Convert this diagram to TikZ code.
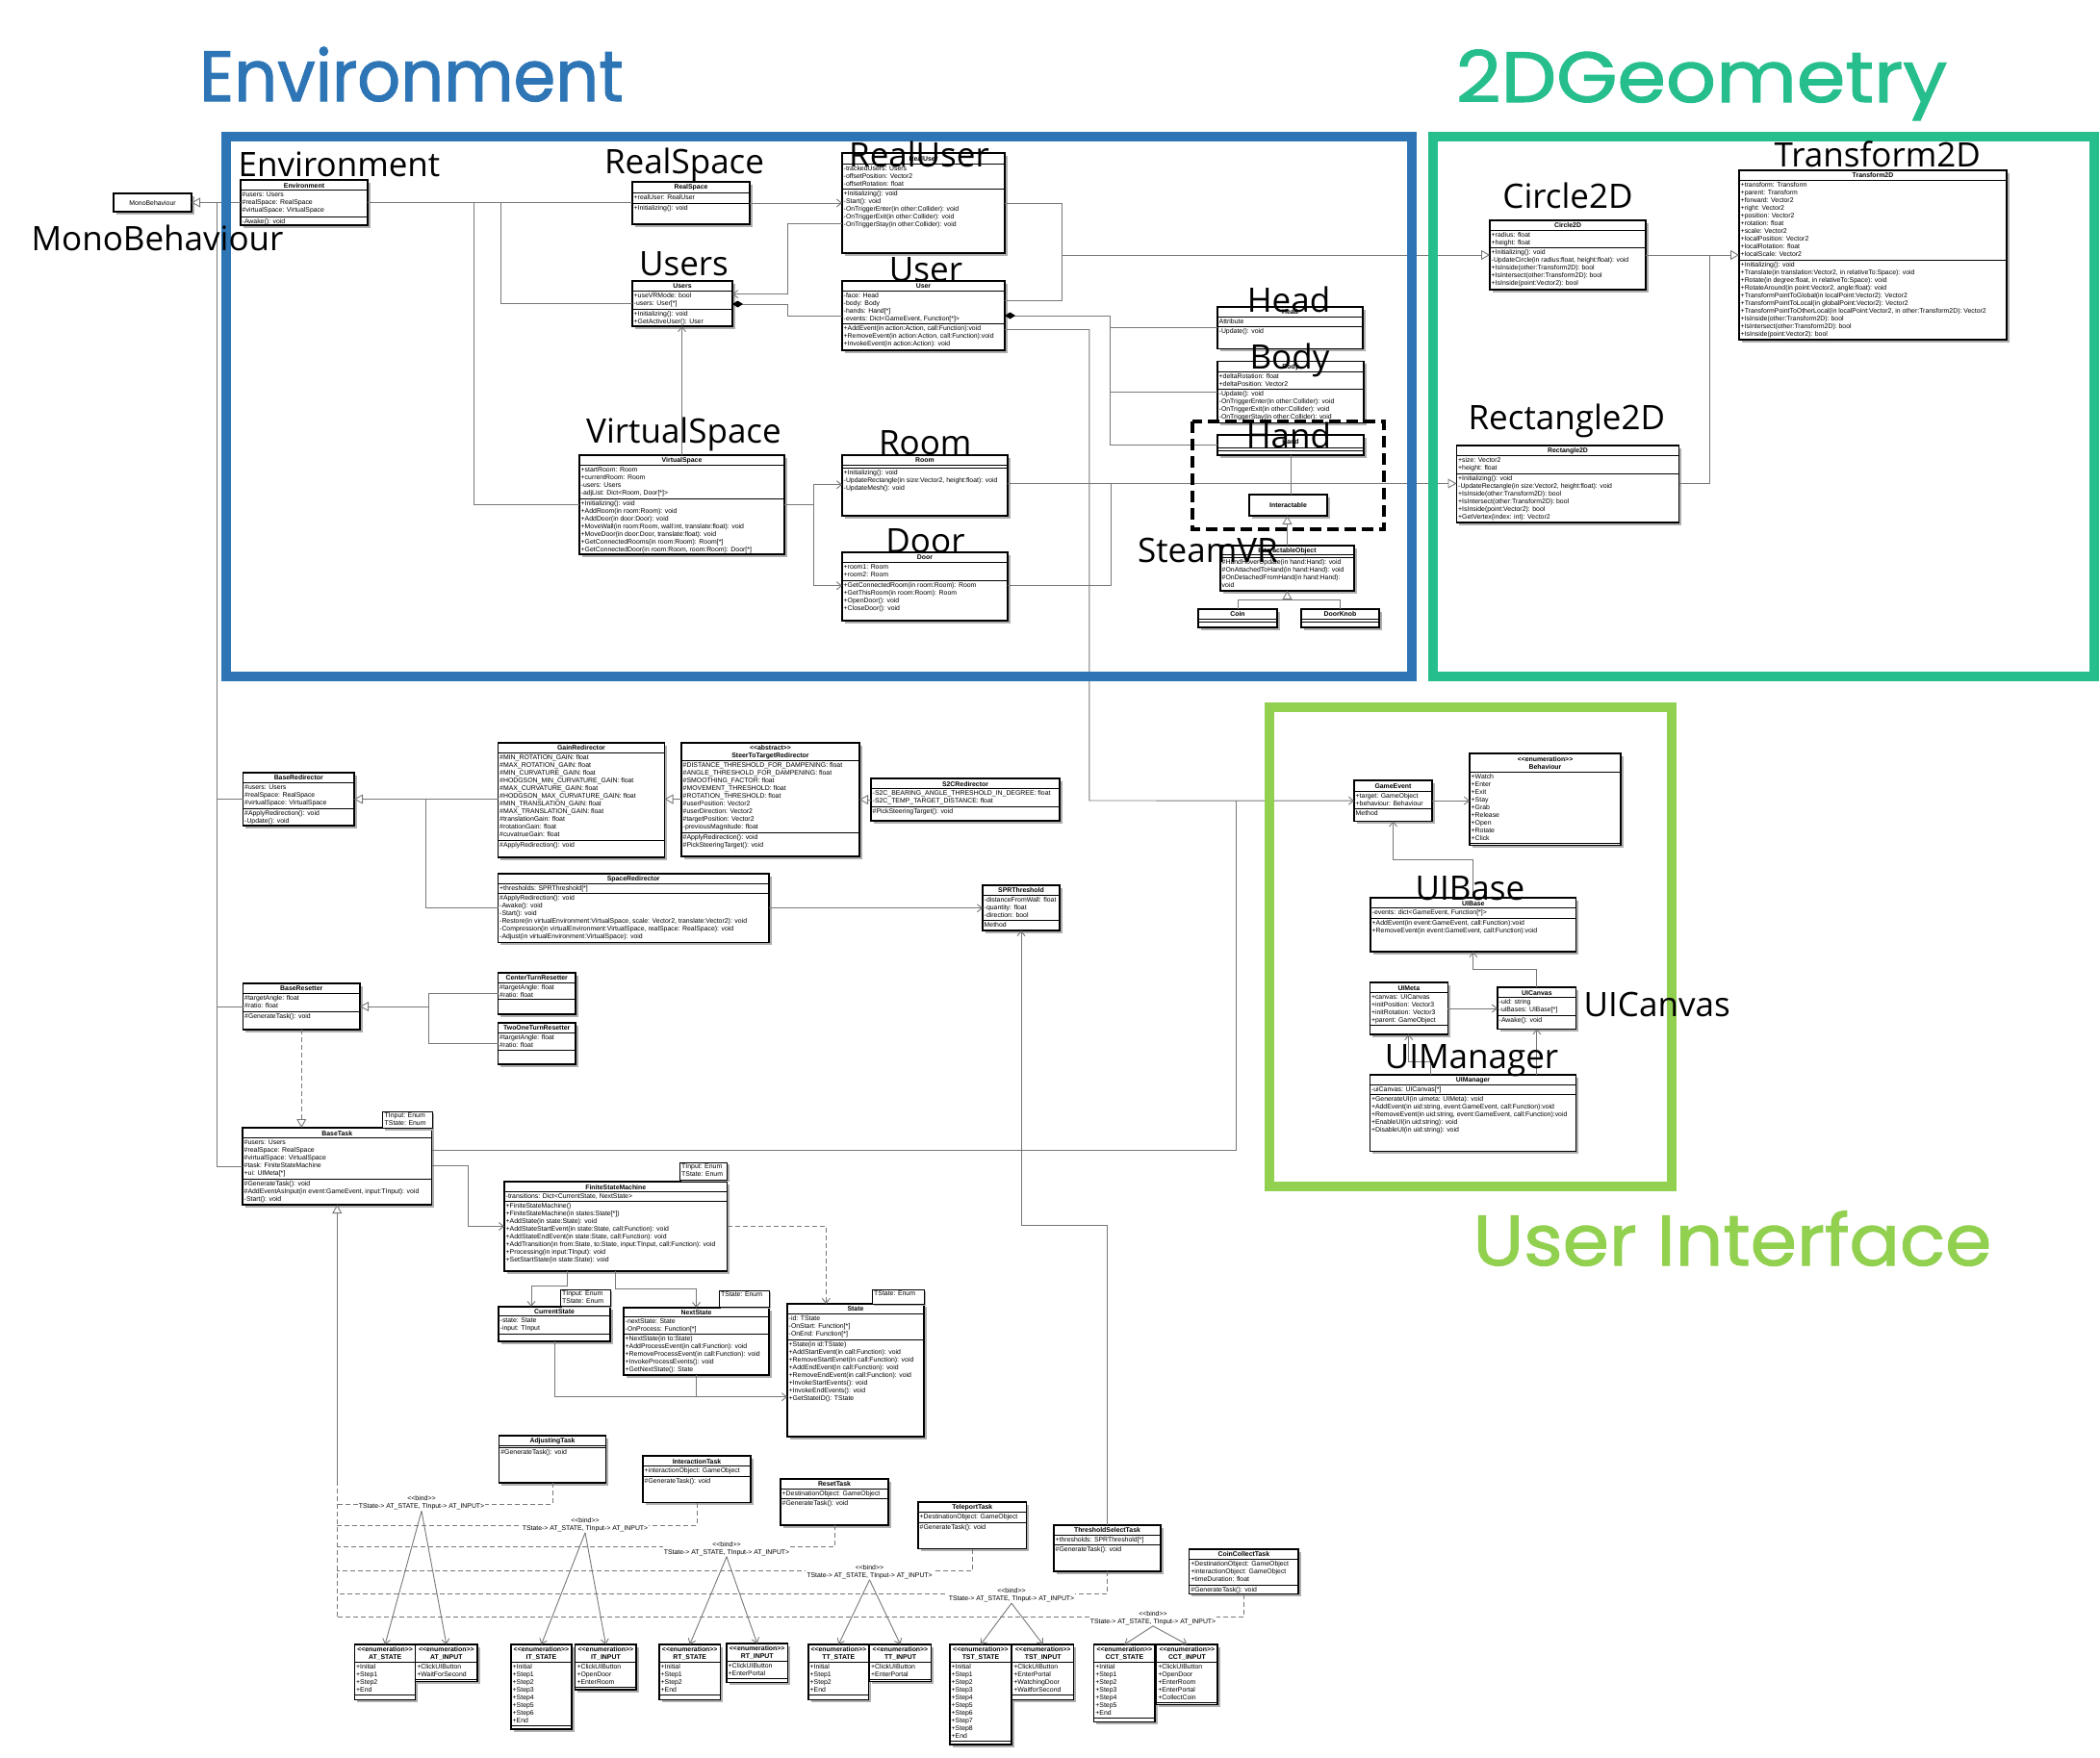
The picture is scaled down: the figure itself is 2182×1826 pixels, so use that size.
\documentclass[tikz,border=0pt]{standalone}
\usepackage{fontspec}
\setmainfont{Liberation Sans}
\newfontfamily\lblfont{Open Sans}
\newfontfamily\ttlfont{Poppins}[FakeBold=1.4]
\usetikzlibrary{arrows.meta}
\definecolor{envblue}{RGB}{46,117,182}
\definecolor{geogreen}{RGB}{38,190,140}
\definecolor{uigreen}{RGB}{146,208,80}
\definecolor{linec}{RGB}{120,120,120}
\definecolor{shadowc}{RGB}{175,175,175}
\newcommand\umlf{\fontsize{6.9}{8}\selectfont\lineskiplimit=-10pt\relax}
\newcommand\umlbf{\fontsize{6.9}{8}\selectfont\bfseries\lineskiplimit=-10pt\relax}
\newcommand\ustrut{\rule[-2pt]{0pt}{8pt}}
\def\Kparse#1,#2,#3,#4,#5,#6\Kend{\def\Kx{#1}\def\Ky{#2}\def\Kw{#3}\def\Kh{#4}\def\Khh{#5}\def\Kah{#6}}
\newcommand\cls[5]{%
  \Kparse#2\Kend
  \fill[shd] ({\Kx+2.5},{\Ky+2.5}) rectangle ++(\Kw,\Kh);
  \node[box, minimum width=\Kw pt, minimum height=\Kh pt] (#1) at (\Kx,\Ky) {};
  \draw[cmp] (\Kx,{\Ky+\Khh}) -- ++(\Kw,0);
  \draw[cmp] (\Kx,{\Ky+\Khh+\Kah}) -- ++(\Kw,0);
  \node[ttl] (#1-t) at ({\Kx+\Kw/2},{\Ky+\Khh/2+0.5}) {#3};
  \node[txt] (#1-a) at ({\Kx+1.5},{\Ky+\Khh+1}) {\ustrut#4};
  \node[txt] (#1-m) at ({\Kx+1.5},{\Ky+\Khh+\Kah+1}) {\ustrut#5};
}
\newcommand\clsone[4]{%
  \Kparse#2,0,0\Kend
  \fill[shd] ({\Kx+2.5},{\Ky+2.5}) rectangle ++(\Kw,\Kh);
  \node[box, minimum width=\Kw pt, minimum height=\Kh pt] (#1) at (\Kx,\Ky) {};
  \node[ttl, font=#4] (#1-t) at ({\Kx+\Kw/2},{\Ky+\Kh/2+0.5}) {#3};
}
\newcommand\tpl[3]{%
  \Kparse#2,0,0\Kend
  \fill[shd] ({\Kx+2},{\Ky+2}) rectangle ++(\Kw,\Kh);
  \node[box, line width=1pt, minimum width=\Kw pt, minimum height=\Kh pt] (#1) at (\Kx,\Ky) {};
  \node[txt] (#1-a) at ({\Kx+2},{\Ky+0.5}) {\ustrut#3};
}
\tikzset{
 box/.style={draw=black, line width=1.2pt, fill=white, anchor=north west, inner sep=0pt, outer sep=0pt},
 cmp/.style={draw=black, line width=0.9pt},
 shd/.style={fill=shadowc},
 ttl/.style={anchor=center, inner sep=0pt, font=\umlbf, align=center},
 txt/.style={anchor=north west, inner sep=0pt, font=\umlf, align=left},
 conn/.style={draw=linec, line width=0.9pt},
 assoc/.style={conn, -{Straight Barb[length=5pt,width=8pt]}},
 inh/.style={conn, -{Triangle[open,length=9pt,width=10pt,fill=white]}},
 comp/.style={conn, {Diamond[length=11pt,width=7pt,fill=black,color=black]}-},
 depl/.style={conn, dash pattern=on 5pt off 3pt},
 deparr/.style={depl, -{Straight Barb[length=5pt,width=8pt]}},
 real/.style={depl, -{Triangle[open,length=9pt,width=10pt,fill=white]}},
 lbl/.style={font=\lblfont\fontsize{35}{40}\selectfont, anchor=base, inner sep=0pt},
 sect/.style={font=\ttlfont\fontsize{74}{80}\selectfont, anchor=base, inner sep=0pt},
 bindl/.style={font=\umlf, align=center, fill=white, inner sep=1pt, anchor=north},
}
\begin{document}
\begin{tikzpicture}[x=1pt,y=-1pt]
\useasboundingbox (0,0) rectangle (2182,1826);
\fill[white] (0,0) rectangle (2182,1826);
% ---------------- classes: Environment
\clsone{MonoBehaviour}{118,201,81,19}{MonoBehaviour}{\umlf}
\cls{Environment}{250,187,132,47,10.5,27.5}{Environment}{\#users: Users\\\#realSpace: RealSpace\\\#virtualSpace: VirtualSpace}{-Awake(): void}
\cls{RealSpace}{657,189,122,44,11,11}{RealSpace}{+realUser: RealUser}{+Initializing(): void}
\cls{RealUser}{875,159,169,104,11,26.5}{RealUser}{-trackedUsers: Users\\-offsetPosition: Vector2\\-offsetRotation: float}{+Initializing(): void\\-Start(): void\\-OnTriggerEnter(in other:Collider): void\\-OnTriggerExit(in other:Collider): void\\-OnTriggerStay(in other:Collider): void}
\cls{Users}{657,292,104,47,10,19}{Users}{+useVRMode: bool\\-users: User[*]}{+Initializing(): void\\+GetActiveUser(): User}
\cls{User}{875,292,169,72,10,34.6}{User}{-face: Head\\-body: Body\\-hands: Hand[*]\\-events: Dict<GameEvent, Function[*]>}{+AddEvent(in action:Action, call:Function):void\\+RemoveEvent(in action:Action, call:Function):void\\+InvokeEvent(in action:Action): void}
\cls{VirtualSpace}{602,473,213,103,10.5,34.5}{VirtualSpace}{+startRoom: Room\\+currentRoom: Room\\-users: Users\\-adjList: Dict<Room, Door[*]>}{+Initializing(): void\\+AddRoom(in room:Room): void\\+AddDoor(in door:Door): void\\+MoveWall(in room:Room, wall:int, translate:float): void\\+MoveDoor(in door:Door, translate:float): void\\+GetConnectedRooms(in room:Room): Room[*]\\+GetConnectedDoor(in room:Room, room:Room): Door[*]}
\cls{Room}{875,473,172,63,10,3}{Room}{}{+Initializing(): void\\-UpdateRectangle(in size:Vector2, height:float): void\\-UpdateMesh(): void}
\cls{Door}{875,574,172,71,10,19.5}{Door}{+room1: Room\\+room2: Room}{+GetConnectedRoom(in room:Room): Room\\+GetThisRoom(in room:Room): Room\\+OpenDoor(): void\\+CloseDoor(): void}
\cls{Head}{1265,319,151,43.5,10,10.4}{Head}{Attribute}{-Update(): void}
\cls{Body}{1265,375.6,152,64,11,18}{Body}{+deltaRotation: float\\+deltaPosition: Vector2}{-Update(): void\\-OnTriggerEnter(in other:Collider): void\\-OnTriggerExit(in other:Collider): void\\-OnTriggerStay(in other:Collider): void}
\cls{Hand}{1265,452,152,21,13,3}{Hand}{}{}
\clsone{Interactable}{1298,514,81,22}{Interactable}{\umlbf}
\cls{InteractableObject}{1268,567,139,47,9.5,3}{InteractableObject}{}{\#HandHoverUpdate(in hand:Hand): void\\\#OnAttachedToHand(in hand:Hand): void\\\#OnDetachedFromHand(in hand:Hand):\\void}
\cls{Coin}{1245,633,82,19,10,3}{Coin}{}{}
\cls{DoorKnob}{1352,633,81,19,10,3}{DoorKnob}{}{}
% ---------------- 2D geometry
\cls{Circle2D}{1548,229,162,72,10,18.7}{Circle2D}{+radius: float\\+height: float}{+Initializing(): void\\-UpdateCircle(in radius:float, height:float): void\\+IsInside(other:Transform2D): bool\\+IsIntersect(other:Transform2D): bool\\+IsInside(point:Vector2): bool}
\cls{Transform2D}{1807,177,278,176,10,83.3}{Transform2D}{+transform: Transform\\+parent: Transform\\+forward: Vector2\\+right: Vector2\\+position: Vector2\\+rotation: float\\+scale: Vector2\\+localPosition: Vector2\\+localRotation: float\\+localScale: Vector2}{+Initializing(): void\\+Translate(in translation:Vector2, in relativeTo:Space): void\\+Rotate(in degree:float, in relativeTo:Space): void\\+RotateAround(in point:Vector2, angle:float): void\\+TransformPointToGlobal(in localPoint:Vector2): Vector2\\+TransformPointToLocal(in globalPoint:Vector2): Vector2\\+TransformPointToOtherLocal(in localPoint:Vector2, in other:Transform2D): Vector2\\+IsInside(other:Transform2D): bool\\+IsIntersect(other:Transform2D): bool\\+IsInside(point:Vector2): bool}
\cls{Rectangle2D}{1513.5,463,231,80,10,19}{Rectangle2D}{+size: Vector2\\+height: float}{+Initializing(): void\\-UpdateRectangle(in size:Vector2, height:float): void\\+IsInside(other:Transform2D): bool\\+IsIntersect(other:Transform2D): bool\\+IsInside(point:Vector2): bool\\+GetVertex(index: int): Vector2}
% ---------------- redirection / reset
\cls{BaseRedirector}{252.5,803,115.5,55,10,27}{BaseRedirector}{\#users: Users\\\#realSpace: RealSpace\\\#virtualSpace: VirtualSpace}{\#ApplyRedirection(): void\\-Update(): void}
\cls{GainRedirector}{517.5,772,173,119,10,91.6}{GainRedirector}{\#MIN\_ROTATION\_GAIN: float\\\#MAX\_ROTATION\_GAIN: float\\\#MIN\_CURVATURE\_GAIN: float\\\#HODGSON\_MIN\_CURVATURE\_GAIN: float\\\#MAX\_CURVATURE\_GAIN: float\\\#HODGSON\_MAX\_CURVATURE\_GAIN: float\\\#MIN\_TRANSLATION\_GAIN: float\\\#MAX\_TRANSLATION\_GAIN: float\\\#translationGain: float\\\#rotationGain: float\\\#cuvatrueGain: float}{\#ApplyRedirection(): void}
\cls{SteerToTargetRedirector}{708,772,185,118,18.3,75}{<{}<abstract>{}>\\SteerToTargetRedirector}{\#DISTANCE\_THRESHOLD\_FOR\_DAMPENING: float\\\#ANGLE\_THRESHOLD\_FOR\_DAMPENING: float\\\#SMOOTHING\_FACTOR: float\\\#MOVEMENT\_THRESHOLD: float\\\#ROTATION\_THRESHOLD: float\\\#userPosition: Vector2\\\#userDirection: Vector2\\\#targetPosition: Vector2\\-previousMagnitude: float}{\#ApplyRedirection(): void\\\#PickSteeringTarget(): void}
\cls{S2CRedirector}{905,809,196,44,10.3,19}{S2CRedirector}{-S2C\_BEARING\_ANGLE\_THRESHOLD\_IN\_DEGREE: float\\-S2C\_TEMP\_TARGET\_DISTANCE: float}{\#PickSteeringTarget(): void}
\cls{SpaceRedirector}{517.5,908,281.5,71.5,10,10.6}{SpaceRedirector}{+thresholds: SPRThreshold[*]}{\#ApplyRedirection(): void\\-Awake(): void\\-Start(): void\\-Restore(in virtualEnvironment:VirtualSpace, scale: Vector2, translate:Vector2): void\\-Compression(in virtualEnvironment:VirtualSpace, realSpace: RealSpace): void\\-Adjust(in virtualEnvironment:VirtualSpace): void}
\cls{SPRThreshold}{1021,920,80,47,10,26}{SPRThreshold}{-distanceFromWall: float\\-quantity: float\\-direction: bool}{Method}
\cls{BaseResetter}{252.5,1022,121.5,48,10,19}{BaseResetter}{\#targetAngle: float\\\#ratio: float}{\#GenerateTask(): void}
\cls{CenterTurnResetter}{517.5,1011,80.5,43,10,17.6}{CenterTurnResetter}{\#targetAngle: float\\\#ratio: float}{}
\cls{TwoOneTurnResetter}{517.5,1063,80.5,43,10,18.3}{TwoOneTurnResetter}{\#targetAngle: float\\\#ratio: float}{}
% ---------------- tasks
\cls{BaseTask}{252,1172,196.5,80,10.6,42.7}{BaseTask}{\#users: Users\\\#realSpace: RealSpace\\\#virtualSpace: VirtualSpace\\\#task: FiniteStateMachine\\+ui: UIMeta[*]}{\#GenerateTask(): void\\\#AddEventAsInput(in event:GameEvent, input:TInput): void\\-Start(): void}
\tpl{BaseTaskT}{397.5,1155,51.5,17.5}{TInput: Enum\\TState: Enum}
\cls{FiniteStateMachine}{524,1228,231.5,93,10.7,10}{FiniteStateMachine}{-transitions: Dict<CurrentState, NextState>}{+FiniteStateMachine()\\+FiniteStateMachine(in states:State[*])\\+AddState(in state:State): void\\+AddStateStartEvent(in state:State, call:Function): void\\+AddStateEndEvent(in state:State, call:Function): void\\+AddTransition(in from:State, to:State, input:TInput, call:Function): void\\+Processing(in input:TInput): void\\+SetStartState(in state:State): void}
\tpl{FSMT}{706,1208,49.5,18}{TInput: Enum\\TState: Enum}
\cls{CurrentState}{518,1358,116,36,9.5,19}{CurrentState}{-state: State\\-input: TInput}{}
\tpl{CurT}{582,1340,52,17}{TInput: Enum\\TState: Enum}
\cls{NextState}{648,1359,151,70,9,18.3}{NextState}{-nextState: State\\-OnProcess: Function[*]}{+NextState(in to:State)\\+AddProcessEvent(in call:Function): void\\+RemoveProcessEvent(in call:Function): void\\+InvokeProcessEvents(): void\\+GetNextState(): State}
\tpl{NextT}{747,1341,52,17}{\rule{0pt}{4pt}TState: Enum}
\cls{State}{818,1355,142,138,10,27}{State}{-id: TState\\-OnStart: Function[*]\\-OnEnd: Function[*]}{+State(in id:TState)\\+AddStartEvent(in call:Function): void\\+RemoveStartEvnet(in call:Function): void\\+AddEndEvent(in call:Function): void\\+RemoveEndEvent(in call:Function): void\\+InvokeStartEvents(): void\\+InvokeEndEvents(): void\\+GetStateID(): TState}
\tpl{StateT}{906,1340,54,15}{\rule{0pt}{3pt}TState: Enum}
\cls{AdjustingTask}{518.7,1492,110.7,49,10,2.3}{AdjustingTask}{}{\#GenerateTask(): void}
\cls{InteractionTask}{668,1513,112,48.7,10.3,11}{InteractionTask}{+interactionObject: GameObject}{\#GenerateTask(): void}
\cls{ResetTask}{811,1537,112,48,10,10}{ResetTask}{+DestinationObject: GameObject}{\#GenerateTask(): void}
\cls{TeleportTask}{954,1561,112.7,48.6,10,11}{TeleportTask}{+DestinationObject: GameObject}{\#GenerateTask(): void}
\cls{ThresholdSelectTask}{1095,1585,111,48,10,10.7}{ThresholdSelectTask}{+thresholds: SPRThreshold[*]}{\#GenerateTask(): void}
\cls{CoinCollectTask}{1235.7,1610,113.3,46.7,10,27.3}{CoinCollectTask}{+DestinationObject: GameObject\\+interactionObject: GameObject\\+timeDuration: float}{\#GenerateTask(): void}
% ---------------- enumerations
\cls{ATS}{368.5,1709,63.2,57.7,18.3,34.4}{<{}<enumeration>{}>\\AT\_STATE}{+Initial\\+Step1\\+Step2\\+End}{}
\cls{ATI}{431.7,1709,64.3,38.3,18.3,17.7}{<{}<enumeration>{}>\\AT\_INPUT}{+ClickUIButton\\+WaitForSecond}{}
\cls{ITS}{531,1709,63,88,18.3,66}{<{}<enumeration>{}>\\IT\_STATE}{+Initial\\+Step1\\+Step2\\+Step3\\+Step4\\+Step5\\+Step6\\+End}{}
\cls{ITI}{597.8,1709,63.2,47,18.3,26}{<{}<enumeration>{}>\\IT\_INPUT}{+ClickUIButton\\+OpenDoor\\+EnterRoom}{}
\cls{RTS}{685,1709,63.5,57.7,18.3,34.4}{<{}<enumeration>{}>\\RT\_STATE}{+Initial\\+Step1\\+Step2\\+End}{}
\cls{RTI}{755,1708,63.4,40.3,18,18}{<{}<enumeration>{}>\\RT\_INPUT}{+ClickUIButton\\+EnterPortal}{}
\cls{TTS}{840,1709,62.7,57.7,18.3,34.4}{<{}<enumeration>{}>\\TT\_STATE}{+Initial\\+Step1\\+Step2\\+End}{}
\cls{TTI}{903.5,1709,64,38.3,18.3,17.7}{<{}<enumeration>{}>\\TT\_INPUT}{+ClickUIButton\\+EnterPortal}{}
\cls{TSTS}{987,1709,64,104,18.3,82}{<{}<enumeration>{}>\\TST\_STATE}{+Initial\\+Step1\\+Step2\\+Step3\\+Step4\\+Step5\\+Step6\\+Step7\\+Step8\\+End}{}
\cls{TSTI}{1051.7,1709,64,57.7,18.3,34.4}{<{}<enumeration>{}>\\TST\_INPUT}{+ClickUIButton\\+EnterPortal\\+WatchingDoor\\+WaitforSecond}{}
\cls{CCTS}{1136.7,1709,63.3,80.3,18.3,58}{<{}<enumeration>{}>\\CCT\_STATE}{+Initial\\+Step1\\+Step2\\+Step3\\+Step4\\+Step5\\+End}{}
\cls{CCTI}{1201.7,1709,63.3,62.7,18.3,42}{<{}<enumeration>{}>\\CCT\_INPUT}{+ClickUIButton\\+OpenDoor\\+EnterRoom\\+EnterPortal\\+CollectCoin}{}
% ---------------- user interface
\cls{GameEvent}{1407,811,81,42.3,11,18.3}{GameEvent}{+target: GameObject\\+behaviour: Behaviour}{Method}
\cls{Behaviour}{1527,783,157,95.3,19,74}{<{}<enumeration>{}>\\Behaviour}{+Watch\\+Enter\\+Exit\\+Stay\\+Grab\\+Release\\+Open\\+Rotate\\+Click}{}
\cls{UIBase}{1424,933,213.7,56,10.7,11}{UIBase}{-events: dict<GameEvent, Function[*]>}{+AddEvent(in event:GameEvent, call:Function):void\\+RemoveEvent(in event:GameEvent, call:Function):void}
\cls{UIMeta}{1423.3,1021,81,54,10.3,34}{UIMeta}{+canvas: UICanvas\\+initPosition: Vector3\\+initRotation: Vector3\\+parent: GameObject}{}
\cls{UICanvas}{1556,1026,81.7,43.3,10.7,18.3}{UICanvas}{-uid: string\\-uiBases: UIBase[*]}{-Awake(): void}
\cls{UIManager}{1423.3,1117,214.4,79.3,10,10}{UIManager}{-uiCanvas: UICanvas[*]}{+GenerateUI(in uimeta: UIMeta): void\\+AddEvent(in uid:string, event:GameEvent, call:Function):void\\+RemoveEvent(in uid:string, event:GameEvent, call:Function):void\\+EnableUI(in uid:string): void\\+DisableUI(in uid:string): void}
% ---------------- connectors
\coordinate (Lt) at (225,210.5);
\draw[inh] (Environment.west) -- (MonoBehaviour.east);
\draw[conn] (Lt) |- (BaseTask.west);
\draw[conn] (Lt |- BaseRedirector.west) -- (BaseRedirector.west);
\draw[conn] (Lt |- BaseResetter.west) -- (BaseResetter.west);
\draw[conn] (Environment.east) -- (RealSpace.west |- Environment.east);
\draw[conn] (520,210.5) |- (Users.west);
\draw[conn] (492.6,210.5) |- (VirtualSpace.west);
\draw[assoc] (RealSpace.east) -- (RealUser.west |- RealSpace.east);
\draw[assoc] (VirtualSpace.north) -- (VirtualSpace.north |- Users.south);
\draw[assoc] (RealUser.west |- 0,232.6) -| (818,305.6) -- (Users.east |- 0,305.6);
\draw[comp] (Users.east |- 0,316) -- (818,316) |- (User.west);
\draw[conn] (RealUser.east |- 0,211.6) -| (1103.6,312.5) -- (User.east |- 0,312.5);
\draw[inh] (1103.6,265) -- (Circle2D.west);
\draw[comp] (User.east) -| (1153.5,462.5) -- (Hand.west);
\draw[conn] (1153.5,340.75) -- (Head.west);
\draw[conn] (1153.5,407.6) -- (Body.west);
\draw[assoc] (User.east |- 0,342.5) -| (1131.8,832) -- (GameEvent.west);
\draw[conn] (BaseTask.east |- 0,1195) -| (1284,832);
\draw[conn] (VirtualSpace.east) -- (845.5,524.5);
\draw[assoc] (845.5,524.5) |- (Room.west |- 0,503.7);
\draw[assoc] (845.5,524.5) |- (Door.west |- 0,608.7);
\draw[inh] (Room.east |- 0,502.5) -- (Rectangle2D.west |- 0,502.5);
\draw[conn] (Door.east |- 0,608.7) -| (1154.8,502.5);
\draw[conn] (Hand.south) -- (Hand.south |- Interactable.north);
\draw[inh] (InteractableObject.north) -- (InteractableObject.north |- Interactable.south);
\draw[conn] (Coin.north) |- (DoorKnob.north |- 0,623.5) -- (DoorKnob.north);
\draw[inh] (InteractableObject.south |- 0,623.5) -- (InteractableObject.south);
\draw[inh] (Circle2D.east) -- (Transform2D.west |- Circle2D.east);
\draw[conn] (Rectangle2D.east |- 0,502.5) -| (1776,265);
\draw[inh] (GainRedirector.west |- BaseRedirector.east) -- (BaseRedirector.east);
\draw[conn] (SpaceRedirector.west) -| (442.5,830.5);
\draw[inh] (SteerToTargetRedirector.west |- BaseRedirector.east) -- (GainRedirector.east |- BaseRedirector.east);
\draw[inh] (S2CRedirector.west) -- (SteerToTargetRedirector.east |- S2CRedirector.west);
\draw[assoc] (SpaceRedirector.east) -- (SPRThreshold.west |- SpaceRedirector.east);
\draw[assoc] (ThresholdSelectTask.north) -- (ThresholdSelectTask.north |- 0,1273) -| (SPRThreshold.south);
\draw[inh] (445.5,1046) -- (BaseResetter.east);
\draw[conn] (CenterTurnResetter.west) -| (445.5,1084.5) -- (TwoOneTurnResetter.west);
\draw[real] (BaseResetter.south) -- (BaseResetter.south |- BaseTask.north);
\draw[assoc] (BaseTask.east |- 0,1211.7) -- (486,1211.7) |- (FiniteStateMachine.west);
\draw[assoc] (FiniteStateMachine.south -| 589.5,0) -- (589.5,1336) -| (CurrentState.north -| 552,0);
\draw[assoc] (FiniteStateMachine.south) -- (FiniteStateMachine.south |- 0,1339.3) -| (NextState.north);
\draw[deparr] (FiniteStateMachine.east) -| (State.north -| 858.3,0);
\draw[assoc] (CurrentState.south) |- (State.west |- 0,1451.7);
\draw[conn] (NextState.south) -- (NextState.south |- 0,1451.7);
\draw[inh] (BaseTask.south |- 0,1540) -- (BaseTask.south);
\draw[depl] (BaseTask.south |- 0,1680) -- (BaseTask.south |- 0,1540);
\draw[depl] (AdjustingTask.south) |- (BaseTask.south |- 0,1563.3);
\draw[depl] (InteractionTask.south) |- (BaseTask.south |- 0,1585);
\draw[depl] (ResetTask.south) |- (BaseTask.south |- 0,1607.7);
\draw[depl] (TeleportTask.south) |- (BaseTask.south |- 0,1632.3);
\draw[depl] (ThresholdSelectTask.south) |- (BaseTask.south |- 0,1656.7);
\draw[depl] (CoinCollectTask.south) |- (BaseTask.south |- 0,1680);
\node[bindl] (B1) at (438,1552.5) {\ustrut<{}<bind>{}>\\TState-> AT\_STATE, TInput-> AT\_INPUT>};
\node[bindl] (B2) at (608,1575) {\ustrut<{}<bind>{}>\\TState-> AT\_STATE, TInput-> AT\_INPUT>};
\node[bindl] (B3) at (755,1600) {\ustrut<{}<bind>{}>\\TState-> AT\_STATE, TInput-> AT\_INPUT>};
\node[bindl] (B4) at (903.5,1624) {\ustrut<{}<bind>{}>\\TState-> AT\_STATE, TInput-> AT\_INPUT>};
\node[bindl] (B5) at (1051,1648.3) {\ustrut<{}<bind>{}>\\TState-> AT\_STATE, TInput-> AT\_INPUT>};
\node[bindl] (B6) at (1198,1672) {\ustrut<{}<bind>{}>\\TState-> AT\_STATE, TInput-> AT\_INPUT>};
\draw[assoc] (B1.south) -- (ATS.north); \draw[assoc] (B1.south) -- (ATI.north);
\draw[assoc] (B2.south) -- (ITS.north); \draw[assoc] (B2.south) -- (ITI.north);
\draw[assoc] (B3.south) -- (RTS.north); \draw[assoc] (B3.south) -- (RTI.north);
\draw[assoc] (B4.south) -- (TTS.north); \draw[assoc] (B4.south) -- (TTI.north);
\draw[assoc] (B5.south) -- (TSTS.north); \draw[assoc] (B5.south) -- (TSTI.north);
\draw[assoc] (B6.south) -- (CCTS.north); \draw[assoc] (B6.south) -- (CCTI.north);
\draw[assoc] (GameEvent.east) -- (Behaviour.west |- GameEvent.east);
\draw[assoc] (UIBase.north) -- (UIBase.north |- 0,893.3) -| (GameEvent.south);
\draw[assoc] (UIMeta.east) -- (UICanvas.west |- UIMeta.east);
\draw[assoc] (UICanvas.north) -- (UICanvas.north |- 0,1007.7) -| (UIBase.south);
\draw[assoc] (UIManager.north -| 1486,0) -- (1486,1103) -| (UIMeta.south);
\draw[assoc] (UIManager.north -| UICanvas.south) -- (UICanvas.south);
% ---------------- frames
\draw[envblue, line width=10pt] (235,142) rectangle (1467,703);
\draw[geogreen, line width=10pt] (1489,142) rectangle (2176,703);
\draw[uigreen, line width=10pt] (1319,735) rectangle (1737,1233);
\draw[black, line width=4pt, dash pattern=on 12pt off 6pt] (1239,437.5) rectangle (1438,549.5);
% ---------------- big labels
\node[lbl] (Lenv) at (352.5,183) {Environment};
\node[lbl] (Lmono) at (163.5,260) {MonoBehaviour};
\node[lbl] (Lrs) at (711,180) {RealSpace};
\node[lbl] (Lusers) at (710.5,286.7) {Users};
\node[lbl] (Lvs) at (710.5,460) {VirtualSpace};
\node[lbl] (Lru) at (955,173) {RealUser};
\node[lbl] (Luser) at (962,292.6) {User};
\node[lbl] (Lhead) at (1339,324.6) {Head};
\node[lbl] (Lbody) at (1340,383) {Body};
\node[lbl] (Lhand) at (1339,465.8) {Hand};
\node[lbl] (Lroom) at (961.3,472.7) {Room};
\node[lbl] (Ldoor) at (961.5,574) {Door};
\node[lbl] (Lsteam) at (1255,584.6) {SteamVR};
\node[lbl] (Lcirc) at (1629,216) {Circle2D};
\node[lbl] (Ltr) at (1950.8,173.3) {Transform2D};
\node[lbl] (Lrect) at (1627.8,446.7) {Rectangle2D};
\node[lbl] (Luib) at (1527.4,935) {UIBase};
\node[lbl] (Luic) at (1721.7,1056.7) {UICanvas};
\node[lbl] (Luim) at (1529,1110) {UIManager};
\node[sect, text=envblue, xscale=0.95] (Tenv) at (427.5,105) {Environment};
\node[sect, text=geogreen, xscale=1.1] (Tgeo) at (1768,106) {2DGeometry};
\node[sect, text=uigreen, xscale=1.05] (Tui) at (1800,1315) {User Interface};
\end{tikzpicture}
\end{document}
